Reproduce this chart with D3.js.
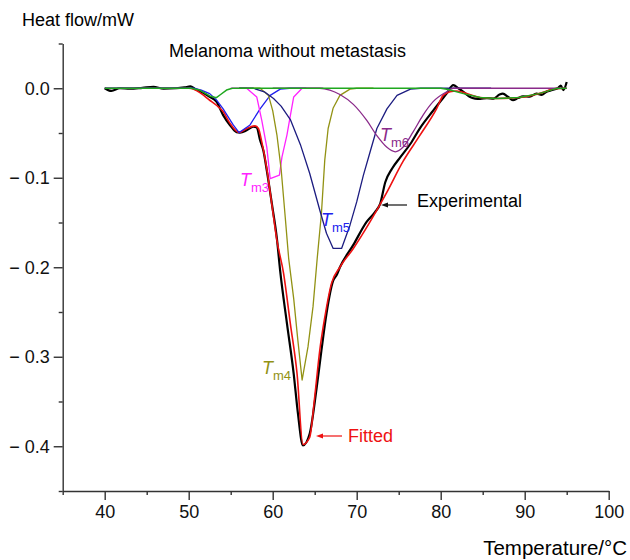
<!DOCTYPE html>
<html>
<head>
<meta charset="utf-8">
<script src="https://cdn.jsdelivr.net/npm/d3@7"></script>
<style>
  body { margin: 0; background: #fff; }
  svg { font-family: "Liberation Sans", Arial, Helvetica, sans-serif; }
  .axis path, .axis line { stroke: #333; stroke-width: 1.4; }
  .axis text { font-size: 18px; fill: #111; }
</style>
</head>
<body>
<svg id="chart" width="630" height="560"></svg>
<script>
// tick values
const xMajor = [40, 50, 60, 70, 80, 90, 100];
const xMinor = [35, 45, 55, 65, 75, 85, 95];
const yMajor = [0, -0.1, -0.2, -0.3, -0.4];
const yMinor = [0.05, -0.05, -0.15, -0.25, -0.35, -0.45];

// experimental curve [T, heat flow]
const experimental = [
  [40, 0], [40.8, -0.003], [41.8, 0], [43, -0.0005], [44.5, 0.0005], [45.8, 0.0015], [47, -0.0005],
  [48.5, 0], [49.5, 0.001], [50.2, 0.002], [50.8, -0.001], [51.5, -0.004], [52.5, -0.0097],
  [53.3, -0.015], [54.1, -0.03], [54.9, -0.041], [55.7, -0.049], [56.1, -0.0495], [56.9, -0.047],
  [57.7, -0.043], [58.1, -0.044], [58.5, -0.058], [58.9, -0.07], [59.3, -0.092], [59.9, -0.129],
  [60.5, -0.168], [60.9, -0.205], [61.7, -0.263], [62.5, -0.319], [63.0, -0.363], [63.6, -0.399],
  [64.4, -0.386], [65.2, -0.337], [65.8, -0.293], [66.4, -0.252], [67.2, -0.215], [67.6, -0.209],
  [68.0, -0.2], [69.6, -0.175], [71.2, -0.149], [72.2, -0.138], [72.8, -0.129], [73.4, -0.105],
  [74.2, -0.09], [75.2, -0.077], [76.4, -0.062], [77.5, -0.045], [79.1, -0.025], [80.7, -0.006],
  [81.5, 0.0034], [82.1, 0], [82.7, -0.004], [83.5, -0.0097], [84.1, -0.0115], [84.7, -0.012],
  [85.5, -0.011], [86.3, -0.0115], [87.0, -0.007], [87.4, -0.006], [88.0, -0.0095], [88.6, -0.0134],
  [89.2, -0.011], [89.8, -0.009], [90.6, -0.0095], [91.4, -0.006], [92.0, -0.0075], [92.6, -0.004],
  [93.3, -0.002], [94.0, 0.0005], [94.3, 0.003], [94.6, -0.002], [95.0, 0.007]
];

// fitted sum
const fitted = [
  [40, 0], [50, 0], [50.6, -0.001], [51.5, -0.006], [52.5, -0.0134], [53.3, -0.019], [54.1, -0.026],
  [54.9, -0.039], [56.0, -0.0495], [56.9, -0.045], [57.9, -0.042], [58.3, -0.045], [58.7, -0.06],
  [59.3, -0.09], [59.9, -0.13], [60.5, -0.17], [61.3, -0.207], [62.1, -0.263], [62.9, -0.319],
  [63.6, -0.398], [64.4, -0.39], [65.0, -0.345], [65.6, -0.293], [66.2, -0.256], [67.0, -0.218],
  [68.0, -0.2], [69.6, -0.179], [71.6, -0.149], [73.6, -0.116], [75.5, -0.082], [77.5, -0.053],
  [79.5, -0.023], [80.3, -0.008], [81.1, -0.004], [81.9, -0.003], [83.1, -0.0058], [84.7, -0.0104],
  [86.6, -0.0115], [89.3, -0.0104], [91.7, -0.006], [93.7, -0.0004], [95, 0]
];

// deconvoluted components
const tm1 = [
  [40, 0], [50.3, 0], [51.3, -0.002], [52.5, -0.0086], [53.3, -0.0105], [53.8, -0.007], [54.5, -0.002],
  [55.2, 0], [80, 0], [80.9, -0.0015], [82.7, -0.006], [84.7, -0.0104], [86.6, -0.0115],
  [89.3, -0.0104], [91.7, -0.006], [93.7, -0.0004], [95, 0]
];
const tm2 = [
  [40, 0], [50.6, 0], [51.5, -0.002], [52.5, -0.006], [53.3, -0.013], [54.1, -0.023], [55.3, -0.041],
  [56.0, -0.0495], [57.3, -0.041], [58.5, -0.023], [59.7, -0.008], [60.9, -0.001], [62, 0], [64, 0]
];
const tm3 = [
  [55, 0], [56.9, 0], [58.1, -0.0097], [58.7, -0.036], [59.3, -0.066], [59.7, -0.101], [60.8, -0.097],
  [61.1, -0.077], [61.7, -0.052], [62.0, -0.036], [62.5, -0.0097], [63.5, 0], [66, 0]
];
const tm4 = [
  [56, 0], [58.5, 0], [59.5, -0.008], [60.0, -0.025], [60.5, -0.052], [61.0, -0.09], [61.5, -0.145],
  [61.9, -0.19], [62.5, -0.235], [63.0, -0.282], [63.5, -0.326], [64.2, -0.289], [64.8, -0.244],
  [65.3, -0.19], [65.8, -0.14], [66.2, -0.08], [66.6, -0.045], [67.2, -0.022], [68.0, -0.008],
  [69.2, -0.001], [70, 0], [72, 0]
];
const tm5 = [
  [56, 0], [57.7, 0], [59, -0.004], [60.1, -0.0115], [61, -0.02], [62.1, -0.035], [63.3, -0.063],
  [64.4, -0.095], [65.6, -0.136], [66.4, -0.162], [67.2, -0.179], [68.2, -0.179], [69.2, -0.153],
  [70.0, -0.127], [70.8, -0.097], [71.6, -0.071], [72.4, -0.045], [73.6, -0.023], [74.8, -0.008],
  [76.4, -0.001], [77.6, 0], [86, 0]
];
const tm6 = [
  [60, 0], [65.6, 0], [66.8, -0.002], [68.0, -0.007], [69.6, -0.018], [71.2, -0.036], [72.4, -0.053],
  [73.6, -0.066], [74.6, -0.071], [75.5, -0.066], [76.7, -0.049], [77.9, -0.03], [79.1, -0.015],
  [80.7, -0.004], [81.5, 0], [95, 0]
];

const svg = d3.select("#chart");

const x = d3.scaleLinear().domain([35, 100]).range([62.7, 608.7]);
const y = d3.scaleLinear().domain([-0.45, 0.05]).range([491, 43.5]);

// axes
const xAxis = svg.append("g").attr("class", "axis").attr("transform", `translate(0 ${y(-0.45)})`);
xAxis.call(d3.axisBottom(x).tickValues(xMajor).tickSize(9).tickSizeOuter(0).tickPadding(5));
svg.append("g").attr("class", "axis").attr("transform", `translate(0 ${y(-0.45)})`)
  .call(d3.axisBottom(x).tickValues(xMinor).tickSize(4).tickSizeOuter(0).tickFormat(""))
  .select(".domain").remove();

const yFmt = d => d === 0 ? "0.0" : "\u2212 " + Math.abs(d).toFixed(1);
const yAxis = svg.append("g").attr("class", "axis").attr("transform", `translate(${x(35)} 0)`);
yAxis.call(d3.axisLeft(y).tickValues(yMajor).tickSize(9).tickSizeOuter(0).tickPadding(4).tickFormat(yFmt));
svg.append("g").attr("class", "axis").attr("transform", `translate(${x(35)} 0)`)
  .call(d3.axisLeft(y).tickValues(yMinor).tickSize(4).tickSizeOuter(0).tickFormat(""))
  .select(".domain").remove();

// lines
const line = d3.line().x(d => x(d[0])).y(d => y(d[1]));
const smooth = d3.line().x(d => x(d[0])).y(d => y(d[1])).curve(d3.curveMonotoneX);

function draw(data, color, width, gen) {
  svg.append("path")
    .datum(data)
    .attr("fill", "none")
    .attr("stroke", color)
    .attr("stroke-width", width)
    .attr("stroke-linejoin", "round")
    .attr("d", gen || line);
}

draw(experimental, "#000", 2.2, smooth);
draw(fitted, "#ee1111", 1.6, smooth);
draw(tm2, "#2020ee", 1.3);
draw(tm3, "#ff22ff", 1.3);
draw(tm4, "#929214", 1.3);
draw(tm5, "#1c1c80", 1.3);
draw(tm6, "#8a2a8a", 1.3, smooth);
draw(tm1, "#1fa81f", 1.5);

// titles
svg.append("text").attr("x", 22).attr("y", 26).attr("font-size", 18).text("Heat flow/mW");
svg.append("text").attr("x", 169).attr("y", 57).attr("font-size", 18).text("Melanoma without metastasis");
svg.append("text").attr("x", 627).attr("y", 555).attr("font-size", 20.5).attr("text-anchor", "end").text("Temperature/°C");

// annotations
function arrow(x1, x2, yy, color) {
  svg.append("line").attr("x1", x1).attr("x2", x2 + 5).attr("y1", yy).attr("y2", yy)
    .attr("stroke", color).attr("stroke-width", 1.2);
  svg.append("path")
    .attr("d", `M${x2},${yy} L${x2 + 7},${yy - 2.5} L${x2 + 7},${yy + 2.5} Z`)
    .attr("fill", color);
}
arrow(407, 381, 205, "#111");
svg.append("text").attr("x", 417).attr("y", 207).attr("font-size", 18).text("Experimental");
arrow(342, 316, 436, "#ee1111");
svg.append("text").attr("x", 348).attr("y", 442).attr("font-size", 18).attr("fill", "#ee1111").text("Fitted");

function tmLabel(tx, ty, sub, color) {
  const t = svg.append("text").attr("x", tx).attr("y", ty).attr("fill", color);
  t.append("tspan").attr("font-size", 18).attr("font-style", "italic").text("T");
  t.append("tspan").attr("font-size", 13).attr("dy", 6).text(sub);
}
tmLabel(240, 186, "m3", "#ff22ff");
tmLabel(262, 374, "m4", "#929214");
tmLabel(321, 226, "m5", "#2020ee");
tmLabel(380, 141, "m6", "#8a2a8a");
</script>
</body>
</html>
